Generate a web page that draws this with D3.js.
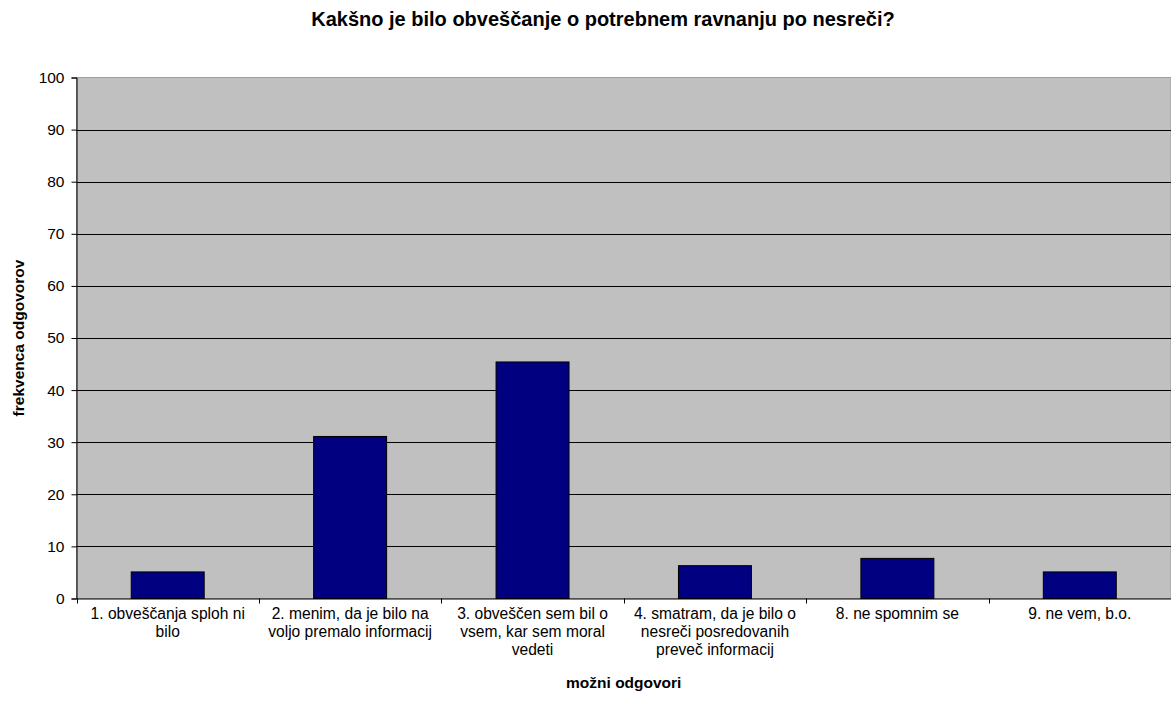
<!DOCTYPE html>
<html><head><meta charset="utf-8">
<script src="https://cdn.jsdelivr.net/npm/d3@7"></script>
<style>body{margin:0;background:#fff;} svg{display:block;font-family:"Liberation Sans",Arial,sans-serif;}</style>
</head><body><svg id="c" width="1171" height="702"></svg>
<script>
const categories = [
  ["1. obveščanja sploh ni", "bilo"],
  ["2. menim, da je bilo na", "voljo premalo informacij"],
  ["3. obveščen sem bil o", "vsem, kar sem moral", "vedeti"],
  ["4. smatram, da je bilo o", "nesreči posredovanih", "preveč informacij"],
  ["8. ne spomnim se"],
  ["9. ne vem, b.o."]
];
const values = [5.1, 31.1, 45.4, 6.3, 7.7, 5.1];
const yTicks = [0,10,20,30,40,50,60,70,80,90,100];
const titleText = "Kakšno je bilo obveščanje o potrebnem ravnanju po nesreči?";
const xTitle = "možni odgovori";
const yTitle = "frekvenca odgovorov";

const svg = d3.select("#c");
const L = 76.5, R = 1171, T = 77.5, B = 598.5;
const xb = d3.scaleBand().domain(d3.range(categories.length)).range([L, R]);
const y = d3.scaleLinear().domain([0,100]).range([B, T]);

svg.append("rect").attr("x", L).attr("y", T).attr("width", R - L).attr("height", B - T).attr("fill", "#c0c0c0").attr("stroke","#a0a0a0").attr("stroke-width",1);

svg.append("g").selectAll("line").data(yTicks.filter(d => d > 0 && d < 100)).join("line")
  .attr("x1", L).attr("x2", R).attr("y1", d => Math.round(y(d)) + 0.5).attr("y2", d => Math.round(y(d)) + 0.5)
  .attr("stroke", "#000").attr("stroke-width", 1);

svg.append("g").selectAll("rect").data(values).join("rect")
  .attr("x", (d,i) => xb(i) + xb.bandwidth()*0.3)
  .attr("width", xb.bandwidth()*0.4)
  .attr("y", d => y(d)).attr("height", d => B - y(d))
  .attr("fill", "#000080").attr("stroke", "#000").attr("stroke-width", 1);

// y axis
const ya = svg.append("g").attr("transform", `translate(${L},0)`)
  .call(d3.axisLeft(y).tickValues(yTicks).tickSize(5).tickPadding(7));
ya.select(".domain").attr("stroke","#000");
ya.selectAll("text").attr("font-size", 15.5).attr("fill","#000").attr("font-family","Liberation Sans, Arial, sans-serif");

// x axis
const xa = svg.append("g").attr("transform", `translate(0,${B})`)
  .call(d3.axisBottom(xb).tickSize(0).tickFormat(""));
xa.select(".domain").attr("stroke","#000");
svg.append("g").selectAll("line").data(d3.range(categories.length + 1)).join("line")
  .attr("x1", i => Math.round(L + i*xb.bandwidth()) + 0.5).attr("x2", i => Math.round(L + i*xb.bandwidth()) + 0.5)
  .attr("y1", B).attr("y2", B + 5).attr("stroke", "#000");

const lab = svg.append("g").selectAll("text").data(categories).join("text")
  .attr("x", (d,i) => xb(i) + xb.bandwidth()/2).attr("y", 619)
  .attr("text-anchor","middle").attr("font-size", 15.6).attr("fill","#000");
lab.each(function(d){
  const t = d3.select(this);
  d.forEach((s,j) => t.append("tspan").attr("x", t.attr("x")).attr("dy", j ? 18 : 0).text(s));
});

svg.append("text").attr("x", 603).attr("y", 26).attr("text-anchor","middle")
  .attr("font-size", 20).attr("font-weight","bold").text(titleText);
svg.append("text").attr("x", (L+R)/2).attr("y", 688).attr("text-anchor","middle")
  .attr("font-size", 15.5).attr("font-weight","bold").text(xTitle);
svg.append("text").attr("transform", `translate(24,${(T+B)/2}) rotate(-90)`).attr("text-anchor","middle")
  .attr("font-size", 15.5).attr("font-weight","bold").text(yTitle);
</script></body></html>
